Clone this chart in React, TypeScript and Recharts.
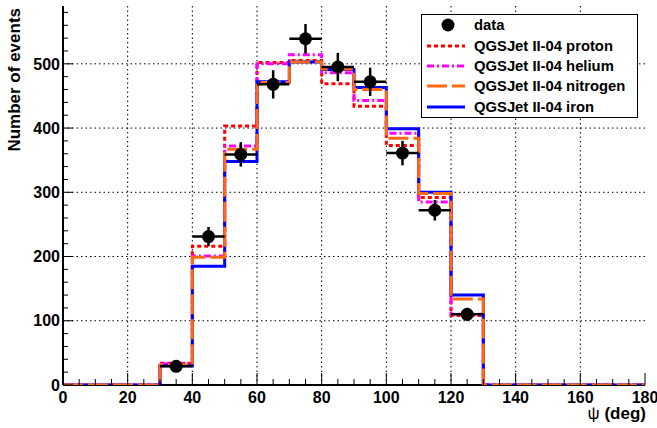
import {
  ComposedChart, Line, Scatter, ErrorBar, XAxis, YAxis, CartesianGrid, Legend
} from 'recharts'

// histogram bin edges (deg) and bin contents, 10 deg bins from 0 to 180
const BIN_EDGES = [0, 10, 20, 30, 40, 50, 60, 70, 80, 90, 100, 110, 120, 130, 140, 150, 160, 170, 180]
const PROTON = [0, 0, 0, 34, 216, 403, 502, 505, 469, 434, 373, 292, 108, 0, 0, 0, 0, 0]
const HELIUM = [0, 0, 0, 33, 201, 372, 500, 514, 486, 443, 392, 285, 110, 0, 0, 0, 0, 0]
const NITROGEN = [0, 0, 0, 31, 199, 367, 471, 503, 492, 460, 384, 298, 134, 0, 0, 0, 0, 0]
const IRON = [0, 0, 0, 30, 185, 348, 472, 503, 491, 463, 399, 300, 140, 0, 0, 0, 0, 0]

// measured data
const DATA_X = [35, 45, 55, 65, 75, 85, 95, 105, 115, 125]
const DATA_Y = [29, 231, 359, 468, 539, 495, 472, 361, 272, 110]
const DATA_EY = [5, 15, 19, 22, 23, 22, 22, 19, 16, 10]
const DATA_EX = [5, 5, 5, 5, 5, 5, 5, 5, 5, 5]

const X_TICKS = [0, 5, 10, 15, 20, 25, 30, 35, 40, 45, 50, 55, 60, 65, 70, 75, 80, 85, 90,
  95, 100, 105, 110, 115, 120, 125, 130, 135, 140, 145, 150, 155, 160, 165, 170, 175, 180]
const Y_TICKS = [0, 20, 40, 60, 80, 100, 120, 140, 160, 180, 200, 220, 240, 260, 280, 300,
  320, 340, 360, 380, 400, 420, 440, 460, 480, 500, 520, 540, 560, 580]
const X_GRID = [20, 40, 60, 80, 100, 120, 140, 160]
const Y_GRID = [100, 200, 300, 400, 500]

const SERIES = [
  { key: 'proton', name: 'QGSJet II-04 proton', color: '#ff0000', dash: '4 3' },
  { key: 'helium', name: 'QGSJet II-04 helium', color: '#ff00ff', dash: '7 3 2 3' },
  { key: 'iron', name: 'QGSJet II-04 iron', color: '#0000ff', dash: undefined },
  { key: 'nitrogen', name: 'QGSJet II-04 nitrogen', color: '#ff6a13', dash: '20 5' },
]
const LEGEND_ORDER = ['proton', 'helium', 'nitrogen', 'iron']

const FONT = '"Liberation Sans", Arial, Helvetica, sans-serif'

const histData = BIN_EDGES.map((x, i) => {
  const b = Math.min(i, PROTON.length - 1)
  return { x, proton: PROTON[b], helium: HELIUM[b], nitrogen: NITROGEN[b], iron: IRON[b] }
})

const pointData = DATA_X.map((x, i) => ({ x, y: DATA_Y[i], ex: DATA_EX[i], ey: DATA_EY[i] }))

function XTick(props: any) {
  const { x, y, payload } = props
  const v = payload.value
  const major = v % 20 === 0
  return (
    <g>
      <line x1={x} x2={x} y1={y} y2={y - (major ? 12 : 6)} stroke="#000" strokeWidth={1} />
      {major && (
        <text x={x} y={y + 17.5} textAnchor="middle" fontSize={16} fontWeight="bold"
          fontFamily={FONT} fill="#000">{v}</text>
      )}
    </g>
  )
}

function YTick(props: any) {
  const { x, y, payload } = props
  const v = payload.value
  const major = v % 100 === 0
  return (
    <g>
      <line x1={x} x2={x + (major ? 10 : 5)} y1={y} y2={y} stroke="#000" strokeWidth={1} />
      {major && (
        <text x={x - 3} y={y + 5.7} textAnchor="end" fontSize={16} fontWeight="bold"
          fontFamily={FONT} fill="#000">{v}</text>
      )}
    </g>
  )
}

function LegendBox() {
  return (
    <div style={{
      width: 217, height: 104, border: '1px solid #000', background: '#fff',
      boxSizing: 'border-box', fontFamily: FONT, fontWeight: 'bold', fontSize: 14.8,
      color: '#000', display: 'flex', flexDirection: 'column'
    }}>
      <div style={{ height: 20.6, display: 'flex', alignItems: 'center' }}>
        <svg width={44} height={16} style={{ marginLeft: 4 }}>
          <circle cx={22} cy={8} r={6.5} fill="#000" />
        </svg>
        <span style={{ marginLeft: 4 }}>data</span>
      </div>
      {LEGEND_ORDER.map(k => {
        const s = SERIES.find(e => e.key === k)!
        return (
          <div key={k} style={{ height: 20.6, display: 'flex', alignItems: 'center' }}>
            <svg width={44} height={16} style={{ marginLeft: 4 }}>
              <line x1={1} x2={39} y1={8} y2={8} stroke={s.color} strokeWidth={3}
                strokeDasharray={s.dash} />
            </svg>
            <span style={{ marginLeft: 4, whiteSpace: 'nowrap' }}>{s.name}</span>
          </div>
        )
      })}
    </div>
  )
}

export default function App() {
  return (
    <div style={{ position: 'absolute', left: 0, top: 0, width: 657, height: 428, background: '#fff' }}>
      <ComposedChart width={657} height={428} data={histData}
        margin={{ top: 6, right: 12, bottom: 0, left: 0 }}>
        <CartesianGrid horizontalValues={Y_GRID} verticalValues={X_GRID}
          stroke="#000" strokeDasharray="1.5 3" strokeWidth={1} />
        {/* bottom frame drawn as a grid line so the histograms stay on top of it */}
        <CartesianGrid horizontalValues={[0]} vertical={false} stroke="#000" strokeWidth={2} />
        <XAxis dataKey="x" type="number" domain={[0, 180]} ticks={X_TICKS} interval={0}
          height={43} tickSize={0} tickMargin={0} tick={XTick} allowDataOverflow
          axisLine={false} />
        <XAxis xAxisId="top" orientation="top" type="number" domain={[0, 180]} height={0}
          tick={false} tickLine={false} axisLine={{ stroke: '#555', strokeWidth: 1.5 }} />
        <YAxis type="number" domain={[0, 590]} ticks={Y_TICKS} interval={0} width={63}
          tickSize={0} tickMargin={0} tick={YTick} allowDataOverflow
          axisLine={{ stroke: '#000', strokeWidth: 2 }}
          label={{
            content: () => (
              <text x={20} y={8} transform="rotate(-90 20 8)" textAnchor="end" fontSize={17}
                fontWeight="bold" fontFamily={FONT} fill="#000">Number of events</text>
            )
          }} />
        <YAxis yAxisId="right" orientation="right" type="number" domain={[0, 590]} width={0}
          tick={false} tickLine={false} axisLine={{ stroke: '#555', strokeWidth: 1.5 }} />
        {SERIES.map(s => (
          <Line key={s.key} dataKey={s.key} type="stepAfter" stroke={s.color} strokeWidth={3}
            strokeDasharray={s.dash} dot={false} activeDot={false} isAnimationActive={false} />
        ))}
        <Scatter data={pointData} dataKey="y" fill="#000" isAnimationActive={false}
          shape={(p: any) => <circle cx={p.cx} cy={p.cy} r={6.5} fill="#000" />}>
          <ErrorBar dataKey="ex" direction="x" width={0} stroke="#000" strokeWidth={2.5} />
          <ErrorBar dataKey="ey" direction="y" width={0} stroke="#000" strokeWidth={2.5} />
        </Scatter>
        <Legend layout="vertical" align="center" verticalAlign="middle" content={LegendBox}
          wrapperStyle={{ left: 421, top: 14, width: 217, height: 104 }} />
        <text x={646} y={419} textAnchor="end" fontSize={17} fontWeight="bold"
          fontFamily={FONT} fill="#000">
          <tspan fontWeight="normal">ψ</tspan> (deg)
        </text>
      </ComposedChart>
    </div>
  )
}
